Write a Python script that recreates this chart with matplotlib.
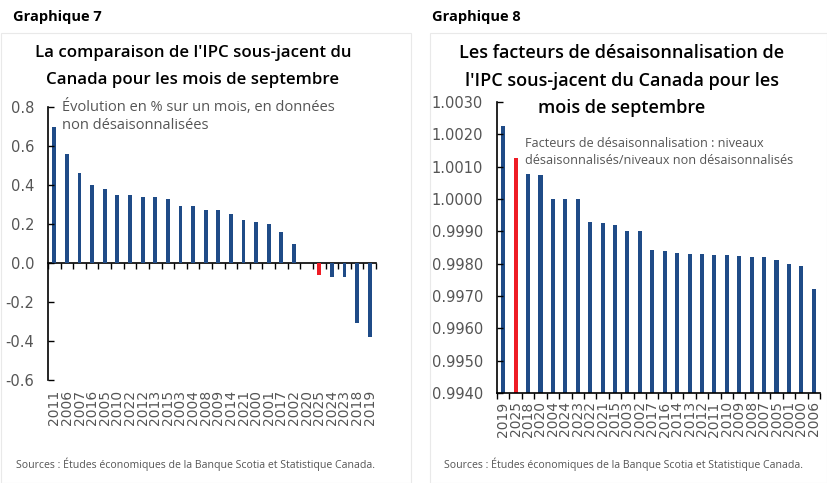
import numpy as np
import matplotlib.pyplot as plt
from matplotlib.patches import Rectangle

plt.rcParams['font.family'] = ['Open Sans', 'DejaVu Sans']

# Graphique 7 data
years7 = ['2011', '2006', '2007', '2016', '2005', '2010', '2022', '2012', '2013', '2015',
          '2003', '2004', '2008', '2009', '2014', '2021', '2000', '2001', '2017', '2002',
          '2020', '2025', '2024', '2023', '2018', '2019']
vals7 = [0.70, 0.56, 0.46, 0.40, 0.38, 0.35, 0.35, 0.34, 0.34, 0.33,
         0.29, 0.29, 0.27, 0.27, 0.25, 0.22, 0.21, 0.20, 0.16, 0.10,
         0.00, -0.06, -0.07, -0.07, -0.31, -0.38]

# Graphique 8 data
years8 = ['2019', '2025', '2018', '2020', '2004', '2024', '2023', '2022', '2021', '2015',
          '2003', '2002', '2017', '2016', '2014', '2013', '2012', '2011', '2010', '2009',
          '2008', '2007', '2005', '2001', '2000', '2006']
vals8 = [1.00226, 1.00126, 1.00076, 1.00074, 1.00000, 1.00000, 1.00000, 0.99929, 0.99926, 0.99919,
         0.99902, 0.99901, 0.99842, 0.99839, 0.99834, 0.99831, 0.99830, 0.99828, 0.99826, 0.99823,
         0.99822, 0.99820, 0.99811, 0.99798, 0.99792, 0.99723]

blue = '#1F4B87'
red = '#EE1C25'
gray = '#555555'
highlight = '2025'

fig = plt.figure(figsize=(8.28, 4.83), dpi=100)

# faint panel borders
fig.patches.append(Rectangle((1 / 828, 0), 410 / 828, 450 / 483, transform=fig.transFigure,
                             fill=False, ec='#e9e9e9', lw=0.8))
fig.patches.append(Rectangle((430 / 828, 0), 397 / 828, 450 / 483, transform=fig.transFigure,
                             fill=False, ec='#e9e9e9', lw=0.8))


def style_axes(ax, n):
    ax.spines['top'].set_visible(False)
    ax.spines['right'].set_visible(False)
    ax.spines['left'].set_linewidth(1.2)
    ax.set_xlim(-0.5, n - 0.5)
    ax.tick_params(axis='y', direction='in', length=4, width=1, labelsize=10.5,
                   labelcolor=gray, pad=10)
    for lab in ax.get_yticklabels():
        lab.set_family('DejaVu Sans')


# ---- Graphique 7 ----
ax1 = fig.add_axes([48 / 828, 1 - 380 / 483, 328 / 828, 273 / 483])
x7 = np.arange(len(years7))
colors7 = [red if y == highlight else blue for y in years7]
ax1.bar(x7, vals7, width=0.3, color=colors7)
ax1.set_ylim(-0.6, 0.8)
ax1.set_yticks(np.arange(-0.6, 0.81, 0.2))
ax1.set_yticklabels(['%.1f' % v for v in np.arange(-0.6, 0.81, 0.2)])
style_axes(ax1, len(years7))
ax1.spines['bottom'].set_visible(False)
ax1.set_xticks(x7)
ax1.set_xticklabels(years7, rotation=90, family='DejaVu Sans', fontsize=10, color=gray)
ax1.tick_params(axis='x', length=0, pad=7)
zero = ax1.secondary_xaxis(0.6 / 1.4)
zero.spines['bottom'].set_linewidth(1.2)
zero.set_xticks(np.arange(-0.5, len(years7), 1.0))
zero.set_xticklabels([])
zero.tick_params(axis='x', direction='out', length=4, width=1)

fig.text(13 / 828, 1 - 17 / 483, 'Graphique 7', fontsize=10.5, fontweight='bold', va='center')
title7 = ["La comparaison de l'IPC sous-jacent du", "Canada pour les mois de septembre"]
for i, line in enumerate(title7):
    fig.text(193 / 828, 1 - (53 + 27 * i) / 483, line,
             fontsize=12.2, fontweight='semibold', ha='center', va='center')
fig.text(62 / 828, 1 - 116 / 483, 'Évolution en % sur un mois, en données\nnon désaisonnalisées',
         fontsize=10.5, color=gray, va='center', linespacing=1.3)
fig.text(16 / 828, 1 - 464 / 483, 'Sources : Études économiques de la Banque Scotia et Statistique Canada.',
         fontsize=7.6, color=gray, va='center')

# ---- Graphique 8 ----
ax2 = fig.add_axes([497 / 828, 1 - 393 / 483, 323 / 828, 291 / 483])
x8 = np.arange(len(years8))
colors8 = [red if y == highlight else blue for y in years8]
ax2.bar(x8, vals8, width=0.33, color=colors8)
ticks8 = np.arange(0.9940, 1.00301, 0.001)
ax2.set_ylim(0.9940, 1.0030)
ax2.set_yticks(ticks8)
ax2.set_yticklabels(['%.4f' % v for v in ticks8])
style_axes(ax2, len(years8))
ax2.spines['bottom'].set_linewidth(1.2)
ax2.set_xticks(x8)
ax2.set_xticklabels(years8, rotation=90, family='DejaVu Sans', fontsize=10, color=gray)
ax2.tick_params(axis='x', length=0, pad=6)
ax2.set_xticks(np.arange(-0.5, len(years8), 1.0), minor=True)
ax2.tick_params(axis='x', which='minor', direction='out', length=4, width=1)

fig.text(432 / 828, 1 - 17 / 483, 'Graphique 8', fontsize=10.5, fontweight='bold', va='center')
title8 = ["Les facteurs de désaisonnalisation de", "l'IPC sous-jacent du Canada pour les",
          "mois de septembre"]
for i, line in enumerate(title8):
    fig.text(622 / 828, 1 - (53 + 27.5 * i) / 483, line,
             fontsize=13, fontweight='semibold', ha='center', va='center')
fig.text(525 / 828, 1 - 152 / 483,
         'Facteurs de désaisonnalisation : niveaux\ndésaisonnalisés/niveaux non désaisonnalisés',
         fontsize=9.1, color=gray, va='center', linespacing=1.35)
fig.text(444 / 828, 1 - 464 / 483, 'Sources : Études économiques de la Banque Scotia et Statistique Canada.',
         fontsize=7.6, color=gray, va='center')

fig.savefig('out.png', dpi=100)
